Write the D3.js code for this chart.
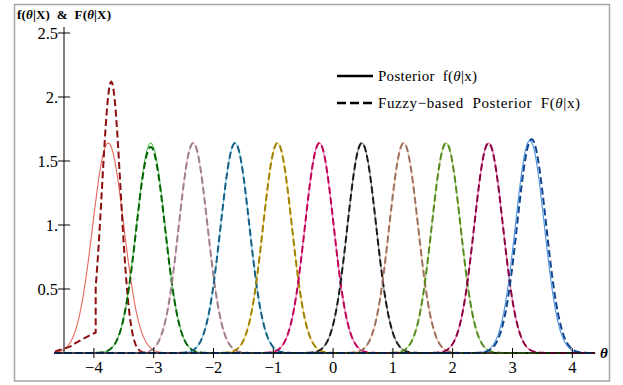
<!DOCTYPE html>
<html><head><meta charset="utf-8">
<script src="https://cdn.jsdelivr.net/npm/d3@7"></script>
<style>body{margin:0;background:#fff}svg{display:block}</style>
</head><body><svg id="c" width="623" height="385"></svg>
<script>
// Curve parameters (normal-shaped posterior curves)
const centers      = [-3.76, -3.05, -2.34, -1.64, -0.93, -0.23, 0.48, 1.18, 1.89, 2.60, 3.29];
const solidPeaks   = [1.64, 1.64, 1.64, 1.64, 1.64, 1.64, 1.64, 1.64, 1.64, 1.64, 1.66];
const solidSD      = [0.26, 0.24, 0.24, 0.24, 0.24, 0.24, 0.24, 0.24, 0.24, 0.24, 0.24];
const dashCenters  = [-3.71, -3.05, -2.34, -1.64, -0.93, -0.23, 0.48, 1.18, 1.89, 2.60, 3.32];
const dashPeaks    = [2.12, 1.61, 1.64, 1.64, 1.64, 1.64, 1.64, 1.64, 1.64, 1.64, 1.67];
const dashSD       = [0.155, 0.24, 0.24, 0.24, 0.24, 0.24, 0.24, 0.24, 0.24, 0.24, 0.24];
// first fuzzy curve: lower tail left of the cut
const redTailTheta = [-4.65, -4.6, -4.5, -4.4, -4.3, -4.18, -4.1, -3.97];
const redTailValue = [0.01, 0.02, 0.034, 0.05, 0.08, 0.11, 0.13, 0.16];
const redCut = -3.97;
const solidColors  = ["#e5675c","#5cbf5c","#f2bfcf","#7ccbe6","#f2d060","#f0609e","#7a7a7a","#f3c2a8","#a4d26e","#e8609e","#4d92de"];
const dashColors   = ["#8b0f0f","#006400","#9c7f87","#145f82","#a08000","#c2005a","#1a1a1a","#9e6e5c","#578a1e","#8c0040","#0d4490"];
const xTicks = [-4, -3, -2, -1, 0, 1, 2, 3, 4];
const xTickLabels = ["\u22124","\u22123","\u22122","\u22121","0","1","2","3","4"];
const yTicks = [0.5, 1, 1.5, 2, 2.5];
const yTickLabels = ["0.5","1.","1.5","2.","2.5"];
const legendLabels = ["Posterior  f(\u03b8|x)", "Fuzzy\u2212based  Posterior  F(\u03b8|x)"];

const FONT = "'Liberation Serif', 'Times New Roman', 'DejaVu Serif', serif";
const svg = d3.select("#c");
const x = d3.scaleLinear().domain([-4.5, 4]).range([64, 572.3]);
const y = d3.scaleLinear().domain([0, 2.5]).range([353, 33]);
const thMin = -4.66, thMax = 4.38;

svg.append("rect").attr("x",14.5).attr("y",4.5).attr("width",595).attr("height",376.5)
  .attr("fill","none").attr("stroke","#a6a6a6").attr("stroke-width",1.5);

const g = svg.append("g");
const line = d3.line().x(d=>x(d[0])).y(d=>y(d[1]));
function bell(mu, sd, pk, a, b){
  const pts=[];
  for(let t=a; t<=b+1e-9; t+=0.01){ pts.push([t, pk*Math.exp(-0.5*((t-mu)/sd)**2)]); }
  return pts;
}
centers.forEach((c,i)=>{
  g.append("path").attr("d", line(bell(c, solidSD[i], solidPeaks[i], thMin, thMax)))
   .attr("fill","none").attr("stroke",solidColors[i]).attr("stroke-width",1.1);
});
dashCenters.forEach((c,i)=>{
  let pts;
  if(i===0){
    pts = redTailTheta.map((t,k)=>[t, redTailValue[k]]).concat(bell(c, dashSD[i], dashPeaks[i], redCut, thMax));
  } else pts = bell(c, dashSD[i], dashPeaks[i], thMin, thMax);
  g.append("path").attr("d", line(pts))
   .attr("fill","none").attr("stroke",dashColors[i]).attr("stroke-width",2)
   .attr("stroke-dasharray","7,3.5");
});

const ax = svg.append("g").attr("stroke","#000");
ax.append("line").attr("x1",x(thMin)).attr("x2",x(4.38)).attr("y1",y(0)).attr("y2",y(0)).attr("stroke-width",1);
ax.append("line").attr("x1",x(-4.5)).attr("x2",x(-4.5)).attr("y1",y(0)).attr("y2",27).attr("stroke-width",1);
xTicks.forEach((t)=>{
  ax.append("line").attr("x1",x(t)).attr("x2",x(t)).attr("y1",y(0)-5).attr("y2",y(0)+5);
});
yTicks.forEach((t)=>{
  ax.append("line").attr("x1",x(-4.5)-6).attr("x2",x(-4.5)+6).attr("y1",y(t)).attr("y2",y(t));
});
xTicks.forEach((t,i)=>{
  svg.append("text").attr("x",x(t)).attr("y",373).attr("text-anchor","middle")
    .attr("font-family",FONT).attr("font-size",16.5).text(xTickLabels[i]);
});
yTicks.forEach((t,i)=>{
  svg.append("text").attr("x",58).attr("y",y(t)+5.5).attr("text-anchor","end")
    .attr("font-family",FONT).attr("font-size",16.5).text(yTickLabels[i]);
});
const yt = svg.append("text").attr("x",17).attr("y",19).attr("font-size",13)
  .attr("font-family",FONT).attr("font-weight","bold").attr("xml:space","preserve")
  .attr("textLength",94).attr("lengthAdjust","spacing");
yt.append("tspan").text("f(");
yt.append("tspan").attr("font-style","italic").text("\u03b8");
yt.append("tspan").text("|X)  &  F(");
yt.append("tspan").attr("font-style","italic").text("\u03b8");
yt.append("tspan").text("|X)");
svg.append("text").attr("x",600).attr("y",358).attr("font-size",15).attr("font-style","italic")
  .attr("font-family",FONT).attr("font-weight","bold").text("\u03b8");

const lg = svg.append("g");
const rows = [76, 103];
const legW = [99, 202];
rows.forEach((ry,i)=>{
  const l = lg.append("line").attr("x1",337).attr("x2",373).attr("y1",ry).attr("y2",ry)
    .attr("stroke","#000").attr("stroke-width",2.5);
  if(i===1) l.attr("stroke-dasharray","9,4");
  const t = lg.append("text").attr("x",378).attr("y",ry+5).attr("font-size",15)
    .attr("font-family",FONT).attr("xml:space","preserve")
    .attr("textLength",legW[i]).attr("lengthAdjust","spacing");
  const parts = legendLabels[i].split("\u03b8");
  t.append("tspan").text(parts[0]);
  t.append("tspan").attr("font-style","italic").text("\u03b8");
  t.append("tspan").text(parts[1]);
});
</script></body></html>
